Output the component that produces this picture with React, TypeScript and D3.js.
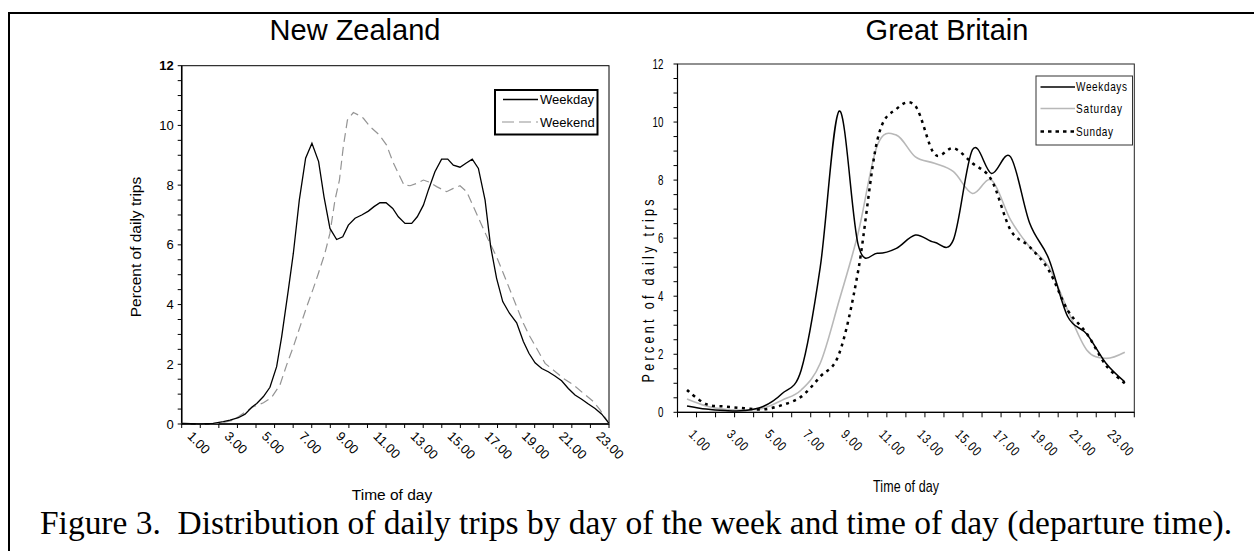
import React from 'react';
import * as d3 from 'd3';

// ---------- Data ----------
// New Zealand (x = hour of day, y = percent of daily trips)
const nzWeekdayHour = [1.0, 1.99, 2.7, 3.24, 3.6, 4.05, 4.41, 4.77, 5.04, 5.4, 5.75, 6.11, 6.38, 6.74, 7.01, 7.33, 7.67, 8.01, 8.37, 8.66, 8.98, 9.34, 9.67, 9.97, 10.33, 10.69, 11.05, 11.35, 11.67, 12.0, 12.36, 12.66, 13.02, 13.38, 13.68, 14.01, 14.28, 14.63, 14.99, 15.32, 15.62, 15.98, 16.34, 16.64, 16.97, 17.33, 17.63, 17.95, 18.28, 18.64, 19.03, 19.39, 19.69, 20.02, 20.38, 20.73, 21.09, 21.45, 21.81, 22.17, 22.53, 22.89, 23.25, 23.61, 24.0];
const nzWeekdayPct = [0.02, 0, 0.02, 0.08, 0.13, 0.21, 0.33, 0.56, 0.69, 0.92, 1.23, 1.92, 2.92, 4.49, 5.72, 7.5, 8.9, 9.4, 8.79, 7.61, 6.55, 6.18, 6.27, 6.66, 6.89, 7.0, 7.13, 7.28, 7.41, 7.41, 7.22, 6.94, 6.72, 6.72, 6.94, 7.33, 7.84, 8.45, 8.87, 8.87, 8.67, 8.6, 8.75, 8.87, 8.56, 7.5, 5.94, 4.88, 4.1, 3.71, 3.39, 2.76, 2.37, 2.05, 1.86, 1.75, 1.61, 1.45, 1.19, 0.97, 0.83, 0.67, 0.52, 0.33, 0.02];
const nzWeekendHour = [1.0, 1.99, 3.06, 3.78, 4.32, 4.86, 5.4, 5.84, 6.29, 6.65, 7.01, 7.37, 7.73, 8.09, 8.36, 8.71, 8.98, 9.25, 9.49, 9.7, 9.92, 10.24, 10.51, 10.78, 11.14, 11.64, 12.03, 12.36, 12.66, 12.97, 13.29, 13.65, 14.01, 14.37, 14.72, 15.26, 15.62, 15.98, 16.34, 16.7, 17.06, 17.51, 17.95, 18.31, 18.67, 19.03, 19.39, 19.75, 20.11, 20.56, 21.0, 21.54, 22.08, 22.62, 23.16, 23.52, 24.0];
const nzWeekendPct = [0.02, 0, 0.02, 0.13, 0.36, 0.58, 0.71, 0.89, 1.31, 1.98, 2.59, 3.26, 3.93, 4.55, 5.05, 5.72, 6.39, 7.5, 8.17, 9.29, 10.18, 10.43, 10.35, 10.24, 9.96, 9.68, 9.34, 8.79, 8.39, 8.0, 7.98, 8.06, 8.17, 8.09, 7.95, 7.78, 7.89, 7.98, 7.78, 7.28, 6.78, 6.16, 5.6, 5.05, 4.49, 3.93, 3.37, 2.92, 2.53, 2.03, 1.81, 1.53, 1.31, 1.03, 0.75, 0.47, 0.02];

// Great Britain (hourly categories)
const gbHours = [1, 2, 3, 4, 5, 6, 7, 8, 9, 10, 11, 12, 13, 14, 15, 16, 17, 18, 19, 20, 21, 22, 23, 24];
const gbWeekdays = [0.22, 0.11, 0.06, 0.06, 0.2, 0.65, 1.46, 5.0, 10.38, 5.75, 5.48, 5.65, 6.11, 5.86, 5.95, 9.05, 8.23, 8.8, 6.52, 5.3, 3.3, 2.7, 1.7, 1.05];
const gbSaturday = [0.46, 0.22, 0.1, 0.08, 0.14, 0.42, 0.77, 1.69, 3.87, 6.2, 9.2, 9.55, 8.8, 8.58, 8.29, 7.54, 8.0, 6.63, 5.7, 5.02, 3.52, 2.15, 1.86, 2.07];
const gbSunday = [0.77, 0.28, 0.2, 0.14, 0.1, 0.25, 0.54, 1.23, 2.03, 4.9, 9.38, 10.45, 10.55, 8.9, 9.1, 8.58, 8.0, 6.28, 5.7, 4.9, 3.52, 2.72, 1.63, 1.0];

const yTickValues = [0, 2, 4, 6, 8, 10, 12];
const labelHours = [1, 3, 5, 7, 9, 11, 13, 15, 17, 19, 21, 23];
const xTickLabels = ['1.00', '3.00', '5.00', '7.00', '9.00', '11.00', '13.00', '15.00', '17.00', '19.00', '21.00', '23.00'];

const SANS = "'Liberation Sans', Arial, sans-serif";
const SERIF = "'Liberation Serif', 'Times New Roman', serif";

// condensed text (Arial Narrow look) made by horizontal scaling
function NText(props: { x: number; y: number; rot?: number; sx?: number; size: number; anchor?: string; ls?: number; len?: number; children: React.ReactNode }) {
  const { x, y, rot = 0, sx = 0.8, size, anchor = 'start', ls = 0, len, children } = props;
  const extra: any = len ? { textLength: len / sx, lengthAdjust: 'spacing' } : {};
  return (
    <text transform={`translate(${x},${y}) rotate(${rot}) scale(${sx},1)`} textAnchor={anchor as any}
      fontFamily={SANS} fontSize={size} letterSpacing={ls} fill="#000" {...extra}>{children}</text>
  );
}

function NZChart() {
  const left = 181.7, right = 609, top = 65.7, bottom = 424;
  const x = d3.scaleLinear().domain([1, 24]).range([left, right]);
  const y = d3.scaleLinear().domain([0, 12]).range([bottom, top]);
  const line = d3.line<[number, number]>().x(d => x(d[0])).y(d => y(d[1]));
  const wd = line(nzWeekdayHour.map((h, i) => [h, nzWeekdayPct[i]] as [number, number])) || '';
  const we = line(nzWeekendHour.map((h, i) => [h, nzWeekendPct[i]] as [number, number])) || '';
  const minor = d3.range(0, 12.01, 0.5);
  const hourTicks = d3.range(1, 25);
  return (
    <g>
      <rect x={left} y={top} width={right - left} height={bottom - top} fill="none" stroke="#000" strokeWidth={1} />
      <line x1={left} x2={left} y1={top} y2={bottom} stroke="#000" strokeWidth={1.5} />
      <line x1={left} x2={right} y1={bottom} y2={bottom} stroke="#000" strokeWidth={1.5} />
      {minor.map(v => (
        <line key={v} x1={left - 4} x2={left} y1={y(v)} y2={y(v)} stroke="#000" strokeWidth={1} />
      ))}
      {yTickValues.map(v => (
        <text key={v} x={left - 8} y={y(v) + 4.5} textAnchor="end" fontFamily={SANS} fontSize={13}
          fontWeight={v === 12 ? 'bold' : 'normal'} fill="#000">{v}</text>
      ))}
      {hourTicks.map(h => (
        <line key={h} x1={x(h)} x2={x(h)} y1={bottom} y2={bottom + 4} stroke="#000" strokeWidth={1} />
      ))}
      {labelHours.map((h, i) => (
        <text key={h} transform={`translate(${x(h) + 5},${bottom + 13}) rotate(45)`} fontFamily={SANS}
          fontSize={13} fill="#000">{xTickLabels[i]}</text>
      ))}
      <path d={we} fill="none" stroke="#949494" strokeWidth={1.2} strokeDasharray="9,5" />
      <path d={wd} fill="none" stroke="#000" strokeWidth={1.3} />
      <text transform={`translate(141,247) rotate(-90)`} textAnchor="middle" fontFamily={SANS} fontSize={15.5}>Percent of daily trips</text>
      <text x={392} y={500} textAnchor="middle" fontFamily={SANS} fontSize={15.5}>Time of day</text>
      {/* legend */}
      <rect x={495} y={90} width={102.5} height={44.5} fill="#fff" stroke="#000" strokeWidth={2} />
      <line x1={503} x2={538} y1={99.5} y2={99.5} stroke="#000" strokeWidth={1.3} />
      <text x={540} y={104} fontFamily={SANS} fontSize={13}>Weekday</text>
      <line x1={502} x2={538} y1={122} y2={122} stroke="#949494" strokeWidth={1.2} strokeDasharray="12,5" />
      <text x={540} y={126.5} fontFamily={SANS} fontSize={13}>Weekend</text>
      <text x={355} y={40} textAnchor="middle" fontFamily={SANS} fontSize={29}>New Zealand</text>
    </g>
  );
}

function GBChart() {
  const left = 677.5, right = 1134.3, top = 64, bottom = 412.3;
  const x = d3.scaleBand<number>().domain(gbHours).range([left, right]).padding(0);
  const bw = x.bandwidth();
  const cx = (h: number) => (x(h) as number) + bw / 2;
  const y = d3.scaleLinear().domain([0, 12]).range([bottom, top]);
  const line = d3.line<[number, number]>().x(d => cx(d[0])).y(d => y(d[1])).curve(d3.curveCardinal.tension(0));
  const mk = (vals: number[]) => line(gbHours.map((h, i) => [h, vals[i]] as [number, number])) || '';
  const minor = d3.range(0, 12.01, 0.5);
  const bounds = d3.range(0, gbHours.length + 1).map(i => left + i * bw);
  return (
    <g>
      <rect x={left} y={top} width={right - left} height={bottom - top} fill="none" stroke="#222" strokeWidth={1} />
      <line x1={left} x2={left} y1={top} y2={bottom} stroke="#000" strokeWidth={1.2} />
      <line x1={left} x2={right} y1={bottom} y2={bottom} stroke="#000" strokeWidth={1.2} />
      {minor.map(v => (
        <line key={v} x1={left - 4} x2={left} y1={y(v)} y2={y(v)} stroke="#000" strokeWidth={1} />
      ))}
      {yTickValues.map(v => (
        <NText key={v} x={left - 14} y={y(v) + 5} sx={0.7} size={14} anchor="end">{v}</NText>
      ))}
      {bounds.map((b, i) => (
        <line key={i} x1={b} x2={b} y1={bottom} y2={bottom + 5} stroke="#000" strokeWidth={1} />
      ))}
      {labelHours.map((h, i) => (
        <NText key={h} x={cx(h) + 1} y={bottom + 23} rot={45} sx={0.8} size={13.5} ls={1}>{xTickLabels[i]}</NText>
      ))}
      <path d={mk(gbSaturday)} fill="none" stroke="#b8b8b8" strokeWidth={1.6} />
      <path d={mk(gbSunday)} fill="none" stroke="#000" strokeWidth={2.5} strokeDasharray="3,4.5" />
      <path d={mk(gbWeekdays)} fill="none" stroke="#000" strokeWidth={1.5} />
      <NText x={654} y={291} rot={-90} sx={0.78} size={16} anchor="middle" len={183}>Percent of daily trips</NText>
      <NText x={906} y={492} sx={0.78} size={16} anchor="middle" len={66}>Time of day</NText>
      {/* legend */}
      <rect x={1036} y={76} width={96.5} height={69} fill="#fff" stroke="#333" strokeWidth={1} />
      <line x1={1040.5} x2={1075} y1={87} y2={87} stroke="#000" strokeWidth={1.5} />
      <NText x={1076} y={91} sx={0.8} size={12.5} len={51}>Weekdays</NText>
      <line x1={1040.5} x2={1075} y1={108.5} y2={108.5} stroke="#b8b8b8" strokeWidth={1.3} />
      <NText x={1076} y={112.5} sx={0.8} size={12.5} len={46}>Saturday</NText>
      <line x1={1040.5} x2={1075} y1={131.5} y2={131.5} stroke="#000" strokeWidth={2.5} strokeDasharray="3.5,4" />
      <NText x={1076} y={135.5} sx={0.8} size={12.5} len={37}>Sunday</NText>
      <text x={947} y={40} textAnchor="middle" fontFamily={SANS} fontSize={29}>Great Britain</text>
    </g>
  );
}

export default function App() {
  return (
    <svg width={1254} height={551} style={{ position: 'absolute', left: 0, top: 0, display: 'block', background: '#fff' }}>
      <rect x={0} y={0} width={1254} height={551} fill="#fff" />
      <path d="M9,551 V13 H1254" fill="none" stroke="#000" strokeWidth={2} />
      <NZChart />
      <GBChart />
      <text x={636} y={534} textAnchor="middle" fontFamily={SERIF} fontSize={33} fill="#000"
        textLength={1192} lengthAdjust="spacingAndGlyphs" style={{ whiteSpace: 'pre' }}>
        {'Figure 3.  Distribution of daily trips by day of the week and time of day (departure time).'}
      </text>
    </svg>
  );
}
